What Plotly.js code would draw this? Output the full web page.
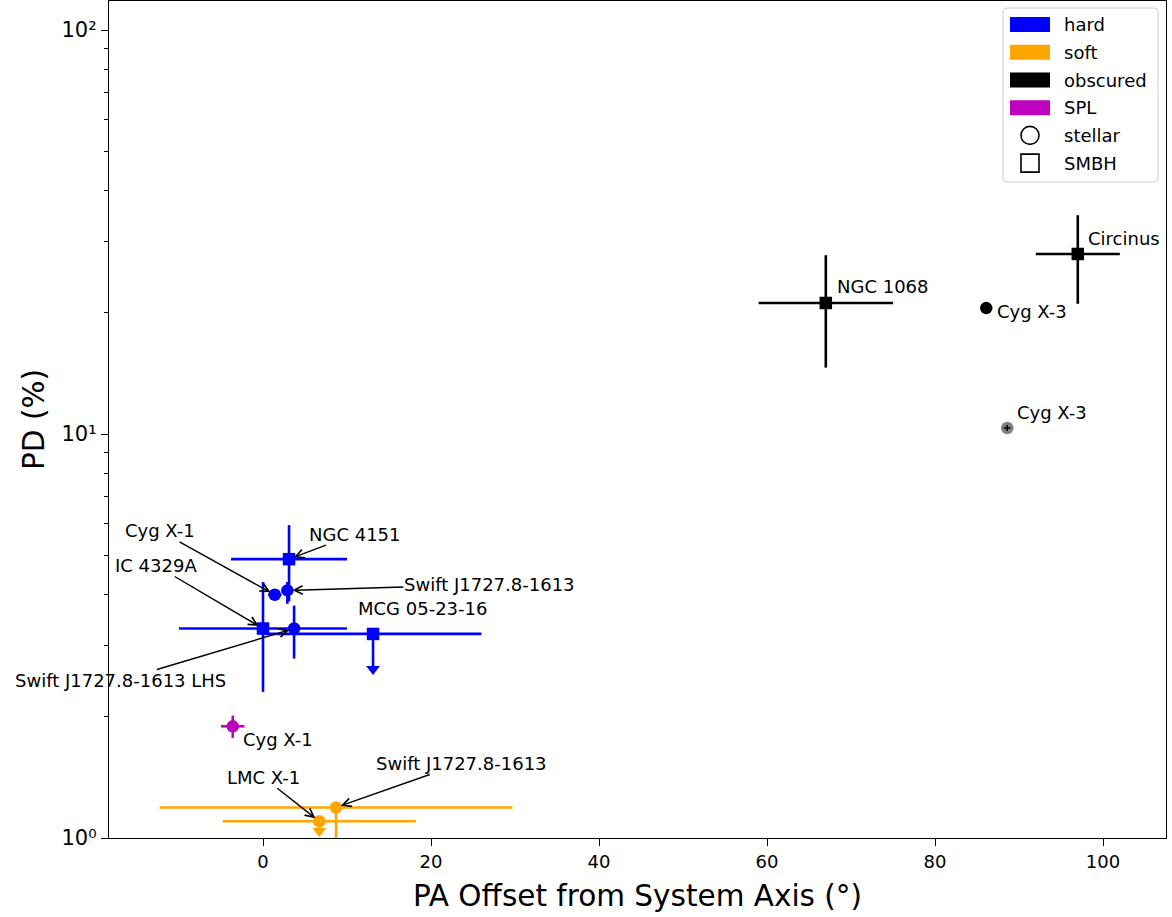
<!DOCTYPE html>
<html>
<head>
<meta charset="utf-8">
<script src="https://cdn.plot.ly/plotly-3.0.1.min.js"></script>
<style>html,body{margin:0;padding:0;background:#fff}#chart{width:1172px;height:917px}</style>
</head>
<body>
<div id="chart"></div>
<script>
// ---------------- DATA ----------------
// hard state
const hardSource   = ['NGC 4151', 'Cyg X-1', 'Swift J1727.8-1613', 'IC 4329A', 'Swift J1727.8-1613 LHS', 'MCG 05-23-16'];
const hardKind     = ['SMBH', 'stellar', 'stellar', 'SMBH', 'stellar', 'SMBH'];
const hardPA       = [3.1, 1.4, 2.9, 0.0, 3.7, 13.1];
const hardPAerr    = [6.9, 0.8, 0.6, 10.0, 0.5, 12.9];
const hardPD       = [4.9, 4.0, 4.1, 3.3, 3.3, 3.2];
const hardPDerrUp  = [1.05, 0.1, 0.2, 1.0, 0.46, 0];
const hardPDerrLo  = [1.05, 0.1, 0.3, 1.0, 0.52, 0.58];
const hardUpperLim = [false, false, false, false, false, true];

// soft state
const softSource   = ['Swift J1727.8-1613', 'LMC X-1'];
const softKind     = ['stellar', 'stellar'];
const softPA       = [8.7, 6.7];
const softPAerr    = [21.0, 11.5];
const softPD       = [1.19, 1.10];
const softPDerrUp  = [0, 0];
const softPDerrLo  = [0.45, 0.06];
const softUpperLim = [false, true];

// obscured
const obsSource    = ['NGC 1068', 'Circinus', 'Cyg X-3'];
const obsKind      = ['SMBH', 'SMBH', 'stellar'];
const obsPA        = [67.0, 97.0, 86.1];
const obsPAerr     = [8.0, 5.0, 0];
const obsPD        = [21.1, 27.9, 20.5];
const obsPDerrUp   = [6.6, 6.9, 0];
const obsPDerrLo   = [6.5, 6.9, 0];

// Cyg X-3, second measurement (faded)
const cyg3bSource  = ['Cyg X-3'];
const cyg3bPA      = [88.6];
const cyg3bPAerr   = [0.4];
const cyg3bPD      = [10.35];
const cyg3bPDerr   = [0.18];

// steep power law
const splSource    = ['Cyg X-1'];
const splPA        = [-3.6];
const splPAerr     = [1.4];
const splPD        = [1.89];
const splPDerr     = [0.12];

// axes
const xTickVals  = [0, 20, 40, 60, 80, 100];
const yTickVals  = [1, 10, 100];
const yTickText  = ['10⁰', '10¹', '10²'];
const yMinorVals = [2,3,4,5,6,7,8,9,20,30,40,50,60,70,80,90];

// legend entries
const legendPatches = [['hard', '#0000ff'], ['soft', '#ffa500'], ['obscured', '#000000'], ['SPL', '#bf00bf']];
const legendMarkers = [['stellar', 'circle'], ['SMBH', 'square']];

// ---------------- STYLE / LAYOUT ----------------
const FONT = 'DejaVu Sans, Verdana, sans-serif';
const W = 1172, H = 917;
const plotL = 109, plotR = 1166, plotT = 1, plotB = 838;
const px = x => (x - plotL) / (plotR - plotL);
const py = y => (plotB - y) / (plotB - plotT);
const sym = k => (k === 'SMBH' ? 'square' : 'circle');
const MS = 12.5, ELW = 2.6;

function group(name, pa, paErr, pd, up, lo, kinds, color) {
  return {
    type: 'scatter', mode: 'markers', name: name, showlegend: false,
    x: pa, y: pd,
    marker: {color: color, size: MS, symbol: kinds.map(sym), line: {width: 0}},
    error_x: {type: 'data', array: paErr, symmetric: true, color: color, thickness: ELW, width: 0},
    error_y: {type: 'data', array: up, arrayminus: lo, symmetric: false, color: color, thickness: ELW, width: 0},
    hoverinfo: 'x+y'
  };
}
function limits(pa, pd, lo, isLim, color) {
  const xs = [], ys = [];
  pa.forEach((v, i) => { if (isLim[i]) { xs.push(v); ys.push(pd[i] - lo[i]); } });
  return {type: 'scatter', mode: 'markers', showlegend: false, x: xs, y: ys,
          marker: {symbol: 'triangle-down', size: 12, color: color, line: {width: 0}}, hoverinfo: 'skip'};
}

const traces = [
  limits(hardPA, hardPD, hardPDerrLo, hardUpperLim, '#0000ff'),
  group('hard', hardPA, hardPAerr, hardPD, hardPDerrUp, hardPDerrLo, hardKind, '#0000ff'),
  limits(softPA, softPD, softPDerrLo, softUpperLim, '#ffa500'),
  group('soft', softPA, softPAerr, softPD, softPDerrUp, softPDerrLo, softKind, '#ffa500'),
  group('obscured', obsPA, obsPAerr, obsPD, obsPDerrUp, obsPDerrLo, obsKind, '#000000'),
  {type: 'scatter', mode: 'markers', showlegend: false, x: cyg3bPA, y: cyg3bPD,
   marker: {color: 'rgba(0,0,0,0.5)', size: MS, symbol: 'circle', line: {width: 0}},
   error_x: {type: 'data', array: cyg3bPAerr, color: '#000', thickness: 1.5, width: 0},
   error_y: {type: 'data', array: cyg3bPDerr, color: '#000', thickness: 1.5, width: 0}},
  group('SPL', splPA, splPAerr, splPD, splPDerr, splPDerr, ['stellar'], '#bf00bf')
];

// label placements: [names, xs, ys, index, text offset dx, dy (screen px), arrow?]
// with arrow: offset is the text centre; without: offset of the text's left edge
const labelPlacement = [
  [hardSource, hardPA, hardPD, 0, 66, -25, true],
  [hardSource, hardPA, hardPD, 1, -115, -64, true],
  [hardSource, hardPA, hardPD, 2, 202, -6, true],
  [hardSource, hardPA, hardPD, 3, -107, -63, true],
  [hardSource, hardPA, hardPD, 4, -174, 52, true],
  [hardSource, hardPA, hardPD, 5, -17, -25, false],
  [softSource, softPA, softPD, 0, 125, -44, true],
  [softSource, softPA, softPD, 1, -56, -44, true],
  [splSource, splPA, splPD, 0, 8, 13, false],
  [obsSource, obsPA, obsPD, 0, 9, -16, false],
  [obsSource, obsPA, obsPD, 1, 8, -15, false],
  [obsSource, obsPA, obsPD, 2, 9, 3, false],
  [cyg3bSource, cyg3bPA, cyg3bPD, 0, 8, -15, false]
];

const annotations = [];
labelPlacement.forEach(([names, xs, ys, i, dx, dy, arrow]) => {
  const lx = xs[i], ly = Math.log10(ys[i]);
  if (arrow) {
    annotations.push({x: lx, y: ly, xref: 'x', yref: 'y', text: names[i], showarrow: true,
      ax: dx, ay: dy, arrowhead: 5, arrowsize: 1.2, arrowwidth: 1.4,
      arrowcolor: '#000', standoff: 5, borderpad: 0,
      font: {family: FONT, size: 18, color: '#000'}});
  } else {
    annotations.push({x: lx, y: ly, xref: 'x', yref: 'y', text: names[i], showarrow: false,
      xanchor: 'left', yanchor: 'middle', xshift: dx, yshift: -dy,
      font: {family: FONT, size: 18, color: '#000'}});
  }
});

// custom legend (matplotlib style)
const shapes = [];
const lgL = 1003, lgR = 1158, lgT = 8, lgB = 182, rr = 4;
shapes.push({type: 'path', xref: 'paper', yref: 'paper', layer: 'above',
  path: `M ${px(lgL + rr)},${py(lgT)} L ${px(lgR - rr)},${py(lgT)} Q ${px(lgR)},${py(lgT)} ${px(lgR)},${py(lgT + rr)} ` +
        `L ${px(lgR)},${py(lgB - rr)} Q ${px(lgR)},${py(lgB)} ${px(lgR - rr)},${py(lgB)} ` +
        `L ${px(lgL + rr)},${py(lgB)} Q ${px(lgL)},${py(lgB)} ${px(lgL)},${py(lgB - rr)} ` +
        `L ${px(lgL)},${py(lgT + rr)} Q ${px(lgL)},${py(lgT)} ${px(lgL + rr)},${py(lgT)} Z`,
  fillcolor: 'rgba(255,255,255,0.8)', line: {color: '#cccccc', width: 1}});
const rowY = [24.5, 52.3, 80, 107.7, 135.4, 163.1];
legendPatches.forEach(([label, color], i) => {
  shapes.push({type: 'rect', xref: 'paper', yref: 'paper', layer: 'above',
    x0: px(1010), x1: px(1050), y0: py(rowY[i] - 7.5), y1: py(rowY[i] + 7.5),
    fillcolor: color, line: {width: 0}});
});
legendMarkers.forEach(([label, shape], j) => {
  const i = j + legendPatches.length;
  shapes.push({type: shape === 'circle' ? 'circle' : 'rect', xref: 'paper', yref: 'paper', layer: 'above',
    x0: px(1021), x1: px(1039), y0: py(rowY[i] - 9), y1: py(rowY[i] + 9),
    fillcolor: 'rgba(0,0,0,0)', line: {color: '#000', width: 1.6}});
});
legendPatches.map(d => d[0]).concat(legendMarkers.map(d => d[0])).forEach((label, i) => {
  annotations.push({xref: 'paper', yref: 'paper', x: px(1062), y: py(rowY[i]), text: label,
    showarrow: false, xanchor: 'left', yanchor: 'middle', font: {family: FONT, size: 18, color: '#000'}});
});

const xMin = (plotL - 263) / 8.4, xMax = (plotR - 263) / 8.4;
const yMax = (plotB - plotT) / 404;

const layout = {
  width: W, height: H,
  margin: {l: plotL, r: W - plotR, t: plotT, b: H - plotB, pad: 0},
  paper_bgcolor: '#fff', plot_bgcolor: '#fff',
  font: {family: FONT, size: 18, color: '#000'},
  showlegend: false,
  xaxis: {
    range: [xMin, xMax], tickmode: 'array', tickvals: xTickVals,
    ticks: 'outside', ticklen: 7, tickwidth: 1, tickcolor: '#000',
    showline: true, mirror: true, linecolor: '#000', linewidth: 1.2,
    showgrid: false, zeroline: false,
    tickfont: {family: FONT, size: 18},
    title: {text: 'PA Offset from System Axis (°)', font: {family: FONT, size: 29.5}, standoff: 14}
  },
  yaxis: {
    type: 'log', range: [0, yMax], tickmode: 'array', tickvals: yTickVals, ticktext: yTickText,
    ticks: 'outside', ticklen: 7, tickwidth: 1, tickcolor: '#000',
    minor: {tickmode: 'array', tickvals: yMinorVals, ticks: 'outside', ticklen: 4, tickwidth: 1, tickcolor: '#000', showgrid: false},
    showline: true, mirror: true, linecolor: '#000', linewidth: 1.2,
    showgrid: false, zeroline: false,
    tickfont: {family: FONT, size: 21},
    title: {text: 'PD (%)', font: {family: FONT, size: 29.5}, standoff: 8}
  },
  annotations: annotations,
  shapes: shapes
};

Plotly.newPlot('chart', traces, layout, {displayModeBar: false, staticPlot: true});
</script>
</body>
</html>
